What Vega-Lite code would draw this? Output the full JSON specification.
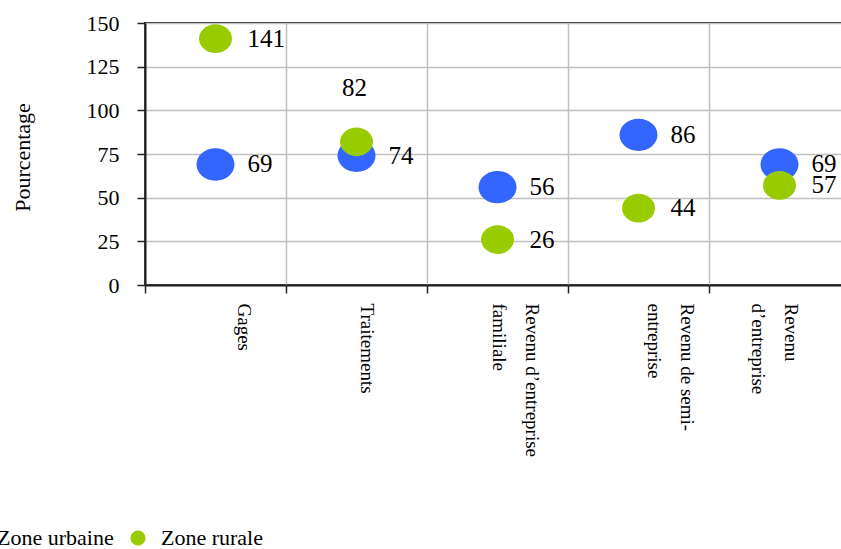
{
  "$schema": "https://vega.github.io/schema/vega-lite/v6.json",
  "autosize": {"type": "none"},
  "padding": {"left": 145, "top": 23, "right": 0, "bottom": 264},
  "width": 705,
  "height": 262,
  "config": {
    "font": "Liberation Serif",
    "view": {"stroke": "#222222", "strokeWidth": 2},
    "axis": {"labelFont": "Liberation Serif", "titleFont": "Liberation Serif"},
    "legend": {"labelFont": "Liberation Serif"},
    "text": {"font": "Liberation Serif"}
  },
  "data": {
    "values": [
      {"cat": "Gages", "zone": "Zone urbaine", "value": 69},
      {"cat": "Traitements", "zone": "Zone urbaine", "value": 74},
      {"cat": "Revenu d’entreprise familiale", "zone": "Zone urbaine", "value": 56},
      {"cat": "Revenu de semi-entreprise", "zone": "Zone urbaine", "value": 86},
      {"cat": "Revenu d’entreprise", "zone": "Zone urbaine", "value": 69},
      {"cat": "Gages", "zone": "Zone rurale", "value": 141},
      {"cat": "Traitements", "zone": "Zone rurale", "value": 82},
      {"cat": "Revenu d’entreprise familiale", "zone": "Zone rurale", "value": 26},
      {"cat": "Revenu de semi-entreprise", "zone": "Zone rurale", "value": 44},
      {"cat": "Revenu d’entreprise", "zone": "Zone rurale", "value": 57}
    ]
  },
  "encoding": {
    "x": {
      "field": "cat",
      "type": "nominal",
      "sort": null,
      "scale": {"type": "band", "paddingInner": 0, "paddingOuter": 0},
      "axis": {
        "title": null,
        "labelAngle": 90,
        "labelAlign": "left",
        "labelBaseline": "middle",
        "labelFont": "Liberation Serif",
        "labelFontSize": 19,
        "labelColor": "#000000",
        "labelLineHeight": 33,
        "labelOffset": {
          "condition": [
            {"test": "datum.value == 'Gages'", "value": 28},
            {"test": "datum.value == 'Traitements'", "value": 10},
            {"test": "datum.value == 'Revenu d’entreprise familiale'", "value": 34},
            {"test": "datum.value == 'Revenu de semi-entreprise'", "value": 48}
          ],
          "value": 11
        },
        "labelPadding": 10,
        "labelExpr": "datum.value == 'Revenu d’entreprise familiale' ? ['Revenu d’entreprise', 'familiale'] : datum.value == 'Revenu de semi-entreprise' ? ['Revenu de semi-', 'entreprise'] : datum.value == 'Revenu d’entreprise' ? ['Revenu', 'd’entreprise'] : datum.value",
        "tickBand": "extent",
        "tickSize": 8,
        "tickColor": "#222222",
        "tickWidth": 1.5,
        "domainColor": "#222222",
        "domainWidth": 2,
        "grid": true,
        "gridColor": "#c0c0c0",
        "gridWidth": 1.5
      }
    },
    "y": {
      "field": "value",
      "type": "quantitative",
      "scale": {"domain": [0, 150], "nice": false},
      "axis": {
        "title": "Pourcentage",
        "titleFont": "Liberation Serif",
        "titleFontSize": 22,
        "titleFontWeight": "normal",
        "titleColor": "#000000",
        "titleX": -123,
        "titleY": 134,
        "titleAngle": -90,
        "titleAlign": "center",
        "titleBaseline": "middle",
        "values": [0, 25, 50, 75, 100, 125, 150],
        "labelFont": "Liberation Serif",
        "labelFontSize": 22,
        "labelColor": "#000000",
        "labelPadding": 18,
        "tickSize": 8,
        "tickColor": "#222222",
        "tickWidth": 1.5,
        "domainColor": "#222222",
        "domainWidth": 2,
        "grid": true,
        "gridColor": "#c0c0c0",
        "gridWidth": 1.5
      }
    },
    "color": {
      "field": "zone",
      "type": "nominal",
      "sort": null,
      "scale": {"domain": ["Zone urbaine", "Zone rurale"], "range": ["#3366ff", "#99cc00"]},
      "legend": {
        "title": null,
        "orient": "none",
        "direction": "horizontal",
        "legendX": -182,
        "legendY": 504,
        "padding": 0,
        "symbolType": "circle",
        "symbolSize": 230,
        "symbolOpacity": 1,
        "symbolStrokeWidth": 0,
        "labelFont": "Liberation Serif",
        "labelFontSize": 22,
        "labelColor": "#000000",
        "labelOffset": 12,
        "columnPadding": 13,
        "labelLimit": 300
      }
    }
  },
  "layer": [
    {
      "transform": [{"filter": "datum.zone == 'Zone urbaine'"}],
      "mark": {
        "type": "point",
        "filled": true,
        "opacity": 1,
        "strokeWidth": 0,
        "size": 1444,
        "shape": "M 1 0 C 1 0.47 0.5523 0.85 0 0.85 C -0.5523 0.85 -1 0.47 -1 0 C -1 -0.47 -0.5523 -0.85 0 -0.85 C 0.5523 -0.85 1 -0.47 1 0 Z"
      }
    },
    {
      "transform": [{"filter": "datum.zone == 'Zone rurale'"}],
      "mark": {
        "type": "point",
        "filled": true,
        "opacity": 1,
        "strokeWidth": 0,
        "size": 1089,
        "shape": "M 1 0 C 1 0.47 0.5523 0.87 0 0.87 C -0.5523 0.87 -1 0.47 -1 0 C -1 -0.47 -0.5523 -0.87 0 -0.87 C 0.5523 -0.87 1 -0.47 1 0 Z"
      }
    },
    {
      "transform": [{"filter": "!(datum.zone == 'Zone rurale' && datum.cat == 'Traitements')"}],
      "mark": {"type": "text", "align": "left", "baseline": "middle", "dx": 32, "font": "Liberation Serif", "fontSize": 25, "color": "#000000"},
      "encoding": {"text": {"field": "value", "type": "quantitative"}, "color": {"value": "#000000"}}
    },
    {
      "transform": [{"filter": "datum.zone == 'Zone rurale' && datum.cat == 'Traitements'"}],
      "mark": {"type": "text", "align": "center", "baseline": "middle", "dy": -54, "dx": -2, "font": "Liberation Serif", "fontSize": 25, "color": "#000000"},
      "encoding": {"text": {"field": "value", "type": "quantitative"}, "color": {"value": "#000000"}}
    }
  ]
}
